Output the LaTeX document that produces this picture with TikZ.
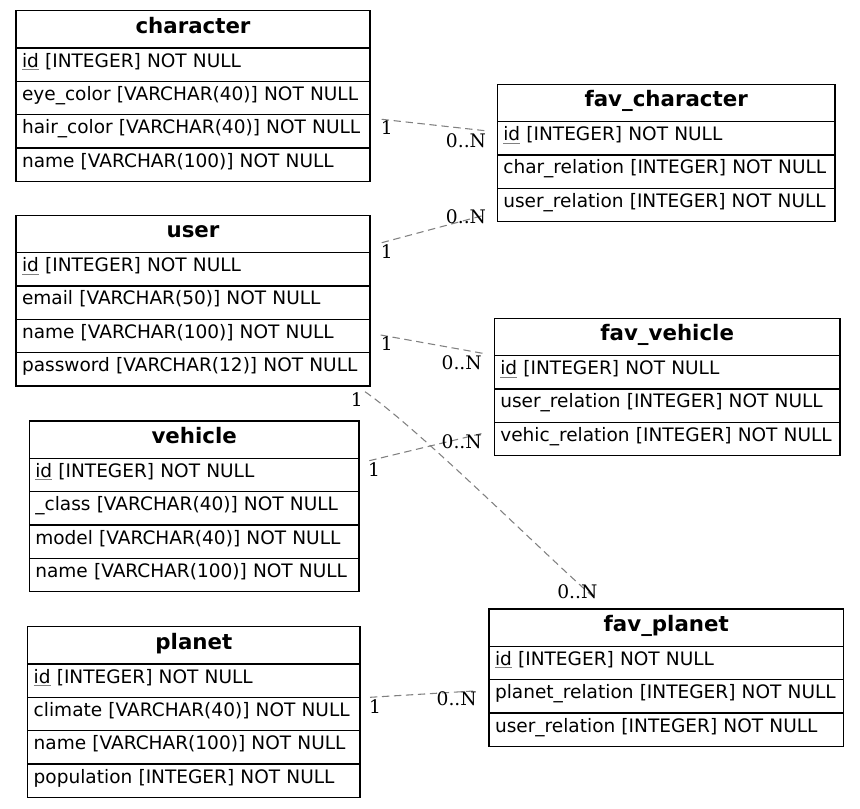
\documentclass[tikz,border=0pt]{standalone}
\usepackage{fontspec}
\usetikzlibrary{positioning}
\newfontfamily\erfont{DejaVu Sans}
\newfontfamily\cardfont{DejaVu Serif}
\newcommand{\pkey}[1]{{\color{gray}\underline{\color{black}#1}}}

\begin{document}
\begin{tikzpicture}[x=.75pt,y=-.75pt,
  head/.style={draw,line width=1pt,outer sep=0pt,anchor=north west,text width=#1,align=center,minimum height=28pt,inner xsep=4.5pt,inner ysep=0pt,text height=10pt,text depth=4pt,font=\erfont\bfseries\fontsize{16}{18}\selectfont},
  row/.style={draw,line width=1pt,outer sep=0pt,text width=#1,align=left,minimum height=25pt,inner xsep=4.5pt,inner ysep=0pt,text height=9pt,text depth=5.5pt,font=\erfont\fontsize{13.9}{16}\selectfont},
  rel/.style={draw=gray,line width=.8pt,dash pattern=on 5.5pt off 3.5pt},
  card/.style={inner sep=0pt,font=\cardfont\fontsize{14}{16}\selectfont}]
\useasboundingbox (0,0) rectangle (860,808);

% left column
\node[head=256.5pt] (character) at (16,10.7) {character};
\node[row=256.5pt,below=0pt of character] (character-id) {\pkey{id} [INTEGER] NOT NULL};
\node[row=256.5pt,below=0pt of character-id] (character-eye) {eye\_color [VARCHAR(40)] NOT NULL};
\node[row=256.5pt,below=0pt of character-eye] (character-hair) {hair\_color [VARCHAR(40)] NOT NULL};
\node[row=256.5pt,below=0pt of character-hair] (character-name) {name [VARCHAR(100)] NOT NULL};

\node[head=256.5pt] (user) at (16,215.3) {user};
\node[row=256.5pt,below=0pt of user] (user-id) {\pkey{id} [INTEGER] NOT NULL};
\node[row=256.5pt,below=0pt of user-id] (user-email) {email [VARCHAR(50)] NOT NULL};
\node[row=256.5pt,below=0pt of user-email] (user-name) {name [VARCHAR(100)] NOT NULL};
\node[row=256.5pt,below=0pt of user-name] (user-pass) {password [VARCHAR(12)] NOT NULL};

\node[head=238.3pt] (vehicle) at (29.3,421) {vehicle};
\node[row=238.3pt,below=0pt of vehicle] (vehicle-id) {\pkey{id} [INTEGER] NOT NULL};
\node[row=238.3pt,below=0pt of vehicle-id] (vehicle-class) {\_class [VARCHAR(40)] NOT NULL};
\node[row=238.3pt,below=0pt of vehicle-class] (vehicle-model) {model [VARCHAR(40)] NOT NULL};
\node[row=238.3pt,below=0pt of vehicle-model] (vehicle-name) {name [VARCHAR(100)] NOT NULL};

\node[head=240.2pt] (planet) at (27.7,626.7) {planet};
\node[row=240.2pt,below=0pt of planet] (planet-id) {\pkey{id} [INTEGER] NOT NULL};
\node[row=240.2pt,below=0pt of planet-id] (planet-climate) {climate [VARCHAR(40)] NOT NULL};
\node[row=240.2pt,below=0pt of planet-climate] (planet-name) {name [VARCHAR(100)] NOT NULL};
\node[row=240.2pt,below=0pt of planet-name] (planet-pop) {population [INTEGER] NOT NULL};

% right column
\node[head=244.3pt] (favchar) at (497.3,84.3) {fav\_character};
\node[row=244.3pt,below=0pt of favchar] (favchar-id) {\pkey{id} [INTEGER] NOT NULL};
\node[row=244.3pt,below=0pt of favchar-id] (favchar-char) {char\_relation [INTEGER] NOT NULL};
\node[row=244.3pt,below=0pt of favchar-char] (favchar-user) {user\_relation [INTEGER] NOT NULL};

\node[head=250.3pt] (favveh) at (494.3,318.3) {fav\_vehicle};
\node[row=250.3pt,below=0pt of favveh] (favveh-id) {\pkey{id} [INTEGER] NOT NULL};
\node[row=250.3pt,below=0pt of favveh-id] (favveh-user) {user\_relation [INTEGER] NOT NULL};
\node[row=250.3pt,below=0pt of favveh-user] (favveh-veh) {vehic\_relation [INTEGER] NOT NULL};

\node[head=256.8pt] (favplan) at (489,609) {fav\_planet};
\node[row=256.8pt,below=0pt of favplan] (favplan-id) {\pkey{id} [INTEGER] NOT NULL};
\node[row=256.8pt,below=0pt of favplan-id] (favplan-planet) {planet\_relation [INTEGER] NOT NULL};
\node[row=256.8pt,below=0pt of favplan-planet] (favplan-user) {user\_relation [INTEGER] NOT NULL};

% relation ends
\coordinate (r1a) at (381.7,119.3); \coordinate (r1b) at (485,130.7);
\coordinate (r2a) at (381.7,242.7); \coordinate (r2b) at (485,215);
\coordinate (r3a) at (380.7,335);   \coordinate (r3b) at (482.7,353.3);
\coordinate (r4a) at (365,391.7);   \coordinate (r4b) at (596.7,600);
\coordinate (r5a) at (369.3,460.7); \coordinate (r5b) at (482.7,433.3);
\coordinate (r6a) at (370,697.3);   \coordinate (r6b) at (473.3,691);

\draw[rel] (r1a) -- (r1b);
\draw[rel] (r2a) -- (r2b);
\draw[rel] (r3a) -- (r3b);
\draw[rel] (r4a) .. controls (420,430) and (540,550) .. (r4b);
\draw[rel] (r5a) -- (r5b);
\draw[rel] (r6a) -- (r6b);

\node[card] (c1a) at (386.7,127.7) {1};
\node[card] (c1b) at (466,140.7) {0..N};
\node[card] (c2a) at (386.7,251.7) {1};
\node[card] (c2b) at (466,216.7) {0..N};
\node[card] (c3a) at (386.7,343.3) {1};
\node[card] (c3b) at (461.7,362.7) {0..N};
\node[card] (c4a) at (356.7,400) {1};
\node[card] (c4b) at (577.3,591.7) {0..N};
\node[card] (c5a) at (374,470) {1};
\node[card] (c5b) at (461.7,441.7) {0..N};
\node[card] (c6a) at (375,706.7) {1};
\node[card] (c6b) at (456.7,698.3) {0..N};
\end{tikzpicture}
\end{document}
